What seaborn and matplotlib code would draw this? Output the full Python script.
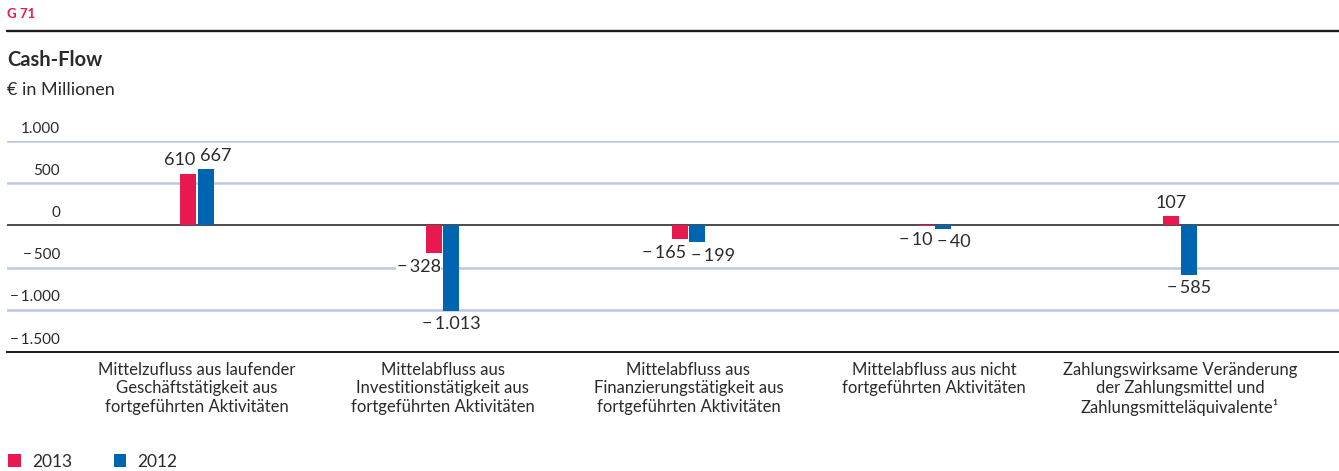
import matplotlib
matplotlib.use("Agg")
import matplotlib.pyplot as plt
from matplotlib.lines import Line2D
from matplotlib.patches import Patch
from matplotlib.transforms import offset_copy
import pandas as pd
import seaborn as sns

# ---- data -------------------------------------------------------------
categories = [
    "Mittelzufluss aus laufender\nGeschäftstätigkeit aus\nfortgeführten Aktivitäten",
    "Mittelabfluss aus\nInvestitionstätigkeit aus\nfortgeführten Aktivitäten",
    "Mittelabfluss aus\nFinanzierungstätigkeit aus\nfortgeführten Aktivitäten",
    "Mittelabfluss aus nicht\nfortgeführten Aktivitäten",
    "Zahlungswirksame Veränderung\nder Zahlungsmittel und\nZahlungsmitteläquivalente¹",
]
years = ["2013", "2012"]
values_2013 = [610, -328, -165, -10, 107]
values_2012 = [667, -1013, -199, -40, -585]
y_ticks = [1000, 500, 0, -500, -1000, -1500]

# ---- style ------------------------------------------------------------
RED = "#e8194f"
BLUE = "#0065b0"
GRID = "#b9c8e3"
TEXT = "#2a2a2a"
FONT = ["Lato", "DejaVu Sans"]

sns.set_theme(style="white")
plt.rcParams["font.family"] = FONT
plt.rcParams["text.color"] = TEXT

W, H = 1339, 471
fig = plt.figure(figsize=(W / 100, H / 100), dpi=100)
ax = fig.add_axes([7 / W, 1 - 352 / H, 1 - 7 / W, (352 - 141) / H])

df = pd.DataFrame({
    "Kategorie": categories * 2,
    "Jahr": [years[0]] * len(categories) + [years[1]] * len(categories),
    "Wert": values_2013 + values_2012,
})

sns.barplot(data=df, x="Kategorie", y="Wert", hue="Jahr", hue_order=years,
            palette=[RED, BLUE], width=0.1424, gap=0.086, saturation=1,
            ax=ax, legend=False, zorder=3, linewidth=0, edgecolor="none")

ax.set_xlim(-0.773, 4.647)
ax.set_ylim(-1500, 1000)

# grid lines and reference lines
for t in y_ticks:
    if t == 0:
        ax.axhline(0, color="#1a1a1a", lw=1.1, zorder=2)
    elif t == -1500:
        continue
    else:
        ax.axhline(t, color=GRID, lw=1.8, zorder=1)

for side in ["top", "right", "left"]:
    ax.spines[side].set_visible(False)
ax.spines["bottom"].set_color("#1a1a1a")
ax.spines["bottom"].set_linewidth(1.4)

# y tick labels sit above their grid lines
ax.set_yticks([])
ax.set_ylabel("")
ax.set_xlabel("")
ytrans = offset_copy(ax.get_yaxis_transform(), fig=fig, x=0, y=6, units="points")
def fmt(v):
    s = f"{abs(v):,}".replace(",", ".")
    return ("\u2212\u2009" + s) if v < 0 else s
for t in y_ticks:
    ax.text((60 - 7) / (W - 7), t, fmt(t), transform=ytrans, ha="right",
            va="baseline", fontsize=11, color=TEXT, clip_on=False)

# category labels
ax.tick_params(axis="x", length=0, pad=7, labelsize=12, labelcolor=TEXT)
ax.set_xticks(range(len(categories)))
ax.set_xticklabels(categories, linespacing=1.2, va="top")

# value labels
ha_2013 = ["right", "right", "right", "right", "center"]
ha_2012 = ["left", "center", "left", "left", "center"]
dx = {"right": -1.0, "left": 1.5, "center": 0.0}
for container, vals, has in zip(ax.containers, [values_2013, values_2012],
                                [ha_2013, ha_2012]):
    for bar, v, ha in zip(container.patches, vals, has):
        x0 = bar.get_x()
        w = bar.get_width()
        xa = {"right": x0 + w, "left": x0, "center": x0 + w / 2}[ha]
        if v >= 0:
            ax.annotate(fmt(v), (xa, v), xytext=(dx[ha], 4), textcoords="offset points",
                        ha=ha, va="bottom", fontsize=13, color=TEXT, zorder=5)
        else:
            ax.annotate(fmt(v), (xa, v), xytext=(dx[ha], -4), textcoords="offset points",
                        ha=ha, va="top", fontsize=13, color=TEXT, zorder=5,
                        bbox=dict(boxstyle="square,pad=0.05", fc="white", ec="none"))

# header
fig.text(7 / W, 1 - 14 / H, "G 71", color=RED, fontsize=9.5, fontweight="bold",
         va="center", ha="left")
fig.add_artist(Line2D([7 / W, 1], [1 - 31 / H] * 2, color="#1a1a1a", lw=1.7))
fig.text(7 / W, 1 - 60 / H, "Cash-Flow", fontsize=14.5, fontweight="bold",
         va="center", ha="left", color=TEXT)
fig.text(7 / W, 1 - 90 / H, "€ in Millionen", fontsize=13, va="center",
         ha="left", color=TEXT)

# legend
handles = [Patch(facecolor=RED, edgecolor="none"), Patch(facecolor=BLUE, edgecolor="none")]
fig.legend(handles, years, loc="lower left", bbox_to_anchor=(-2 / W, -9 / H),
           ncol=2, frameon=False, fontsize=12.5, handlelength=0.7,
           handleheight=0.7, handletextpad=0.65, columnspacing=2.4,
           borderaxespad=0.2)

fig.savefig("out.png", dpi=100)
